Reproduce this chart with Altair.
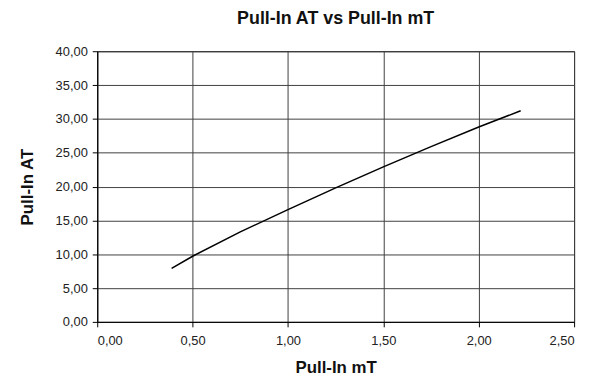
import altair as alt
import pandas as pd

pull_in_mt = [0.39, 0.50, 0.75, 1.00, 1.25, 1.50, 1.75, 2.00, 2.22]
pull_in_at = [7.9, 9.7, 13.3, 16.6, 19.8, 22.9, 25.9, 28.8, 31.2]
x_ticks = [0, 0.5, 1.0, 1.5, 2.0, 2.5]
y_ticks = [0, 5, 10, 15, 20, 25, 30, 35, 40]

df = pd.DataFrame({"mT": pull_in_mt, "AT": pull_in_at})

lab = "replace(format(datum.value, '.2f'), '.', ',')"

chart = alt.Chart(df).mark_line(color="black", strokeWidth=1.5).encode(
    x=alt.X("mT:Q", scale=alt.Scale(domain=[0, 2.5], nice=False),
            axis=alt.Axis(title="Pull-In mT", values=x_ticks,
                          labelExpr=lab, labelPadding=8, titlePadding=12)),
    y=alt.Y("AT:Q", scale=alt.Scale(domain=[0, 40], nice=False),
            axis=alt.Axis(title="Pull-In AT", values=y_ticks,
                          labelExpr=lab, labelPadding=5, titlePadding=19)),
).properties(
    width=481, height=273,
    title=alt.TitleParams("Pull-In AT vs Pull-In mT", fontSize=18, fontWeight="bold",
                          font="Liberation Sans", color="#111", offset=17,
                          anchor="middle"),
    autosize=alt.AutoSizeParams(type="none"),
    padding={"left": 90, "top": 42, "right": 10, "bottom": 56},
).configure_view(
    stroke="black", strokeWidth=1
).configure_axis(
    labelFont="Liberation Sans", labelFontSize=13, labelColor="#222",
    titleFont="Liberation Sans", titleFontSize=17, titleFontWeight="bold", titleColor="#111",
    gridColor="#404040", gridWidth=1, gridOpacity=1,
    domainColor="black", tickColor="black", tickSize=5,
)

chart.save("out.html", embed_options={"renderer": "svg", "actions": False})
